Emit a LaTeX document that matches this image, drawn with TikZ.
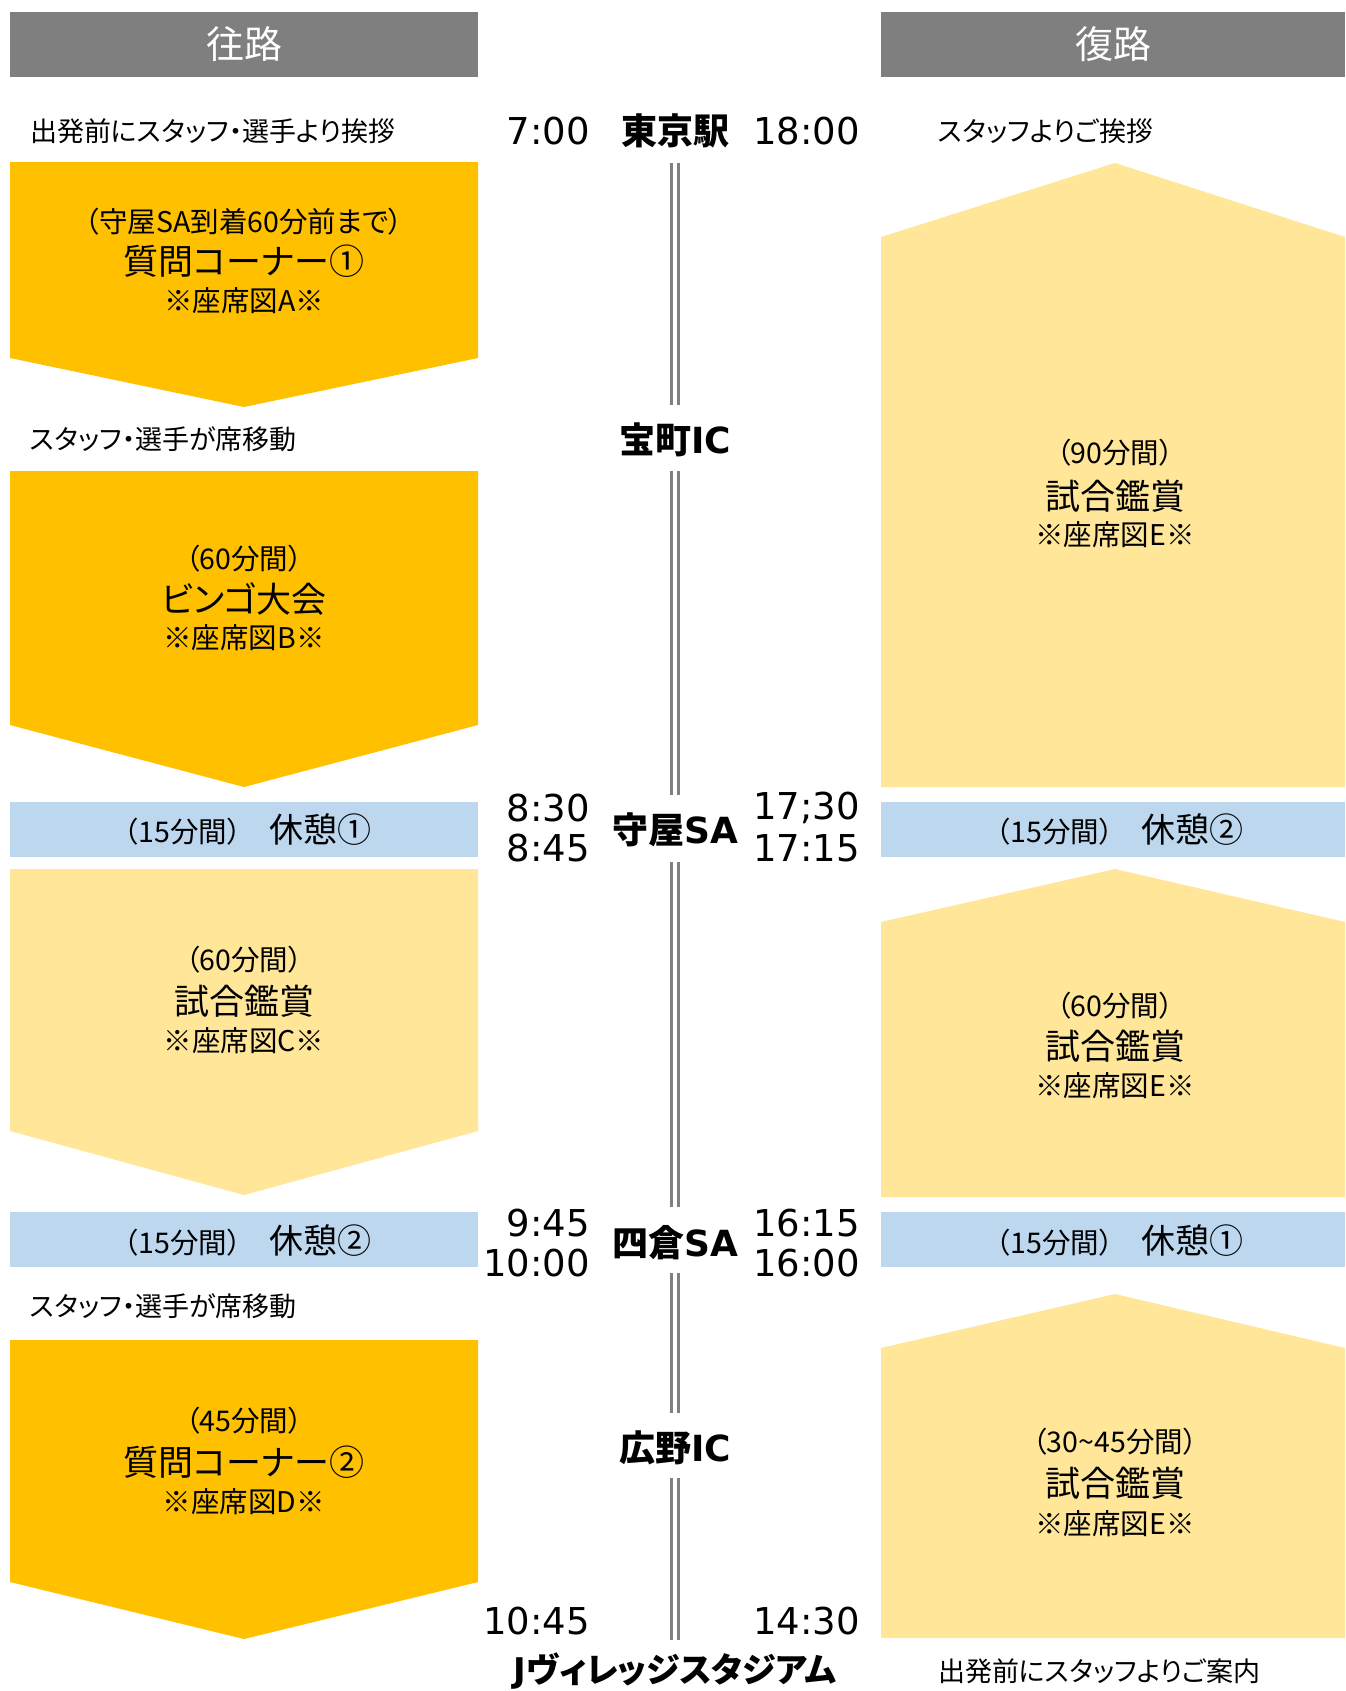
\documentclass[tikz,border=0pt]{standalone}
\usepackage{fontspec}
\setmainfont{Noto Sans CJK JP}[RawFeature=+palt]
\newfontfamily\dv{DejaVu Sans}
\definecolor{hdr}{HTML}{7F7F7F}
\definecolor{orng}{HTML}{FFC000}
\definecolor{lyel}{HTML}{FFE699}
\definecolor{lblu}{HTML}{BDD7EE}
\definecolor{railc}{HTML}{808080}
\newcommand\fsz[1]{\fontsize{#1}{#1}\selectfont}
\begin{document}
\begin{tikzpicture}[x=1pt,y=-1pt,
  hdrtxt/.style={inner sep=0pt,text=white,font=\fsz{38}},
  lbl/.style={inner sep=0pt,anchor=west,font=\fsz{27}},
  tone/.style={inner sep=0pt,font=\fsz{28.5}},
  ttwo/.style={inner sep=0pt,font=\fsz{35}},
  tm/.style={inner sep=0pt,font=\dv\fsz{37}},
  stn/.style={inner sep=0pt,font=\bfseries\fsz{36}},
  rest/.style={inner sep=0pt},
  railline/.style={draw=railc,line width=3pt,double=white,double distance=4pt}]
\useasboundingbox (0,0) rectangle (1345,1691);
\fill[white] (0,0) rectangle (1345,1691);
% headers
\fill[hdr] (10,12) rectangle (478,77);
\fill[hdr] (881,12) rectangle (1345,77);
\node[hdrtxt] (hl) at (244,44) {往路};
\node[hdrtxt] (hr) at (1113,44) {復路};
% left shapes
\fill[orng] (10,162) -- (478,162) -- (478,358) -- (244,407) -- (10,358) -- cycle;
\fill[orng] (10,471) -- (478,471) -- (478,725) -- (244,787) -- (10,725) -- cycle;
\fill[lblu] (10,802) rectangle (478,857);
\fill[lyel] (10,869) -- (478,869) -- (478,1131) -- (244,1195) -- (10,1131) -- cycle;
\fill[lblu] (10,1212) rectangle (478,1267);
\fill[orng] (10,1340) -- (478,1340) -- (478,1582) -- (244,1639) -- (10,1582) -- cycle;
% right shapes
\fill[lyel] (881,787) -- (1345,787) -- (1345,237) -- (1115,163) -- (881,237) -- cycle;
\fill[lblu] (881,802) rectangle (1345,857);
\fill[lyel] (881,1197) -- (1345,1197) -- (1345,922) -- (1115,869) -- (881,922) -- cycle;
\fill[lblu] (881,1212) rectangle (1345,1267);
\fill[lyel] (881,1638) -- (1345,1638) -- (1345,1348) -- (1115,1294) -- (881,1348) -- cycle;
% small labels
\node[lbl] (la) at (30,131) {出発前にスタッフ・選手より挨拶};
\node[lbl] (lb) at (30,439) {スタッフ・選手が席移動};
\node[lbl] (lc) at (30,1306) {スタッフ・選手が席移動};
\node[lbl] (ra) at (938,131) {スタッフよりご挨拶};
\node[lbl] (rb) at (938,1671) {出発前にスタッフよりご案内};
% block texts left
\node[tone] (a1) at (244,222) {（守屋SA到着60分前まで）};
\node[ttwo] (a2) at (244,261) {質問コーナー①};
\node[tone] (a3) at (244,301) {※座席図A※};
\node[tone] (b1) at (244,559) {（60分間）};
\node[ttwo] (b2) at (244,599) {ビンゴ大会};
\node[tone] (b3) at (244,638) {※座席図B※};
\node[tone] (c1) at (244,960) {（60分間）};
\node[ttwo] (c2) at (244,1001) {試合鑑賞};
\node[tone] (c3) at (244,1041) {※座席図C※};
\node[tone] (d1) at (244,1421) {（45分間）};
\node[ttwo] (d2) at (244,1462) {質問コーナー②};
\node[tone] (d3) at (244,1502) {※座席図D※};
% block texts right
\node[tone] (e1) at (1115,453) {（90分間）};
\node[ttwo] (e2) at (1115,496) {試合鑑賞};
\node[tone] (e3) at (1115,535) {※座席図E※};
\node[tone] (f1) at (1115,1006) {（60分間）};
\node[ttwo] (f2) at (1115,1046) {試合鑑賞};
\node[tone] (f3) at (1115,1086) {※座席図E※};
\node[tone] (g1) at (1115,1442) {（30\textasciitilde45分間）};
\node[ttwo] (g2) at (1115,1483) {試合鑑賞};
\node[tone] (g3) at (1115,1524) {※座席図E※};
% rest labels
\node[rest] (rl1) at (248,830) {{\fsz{28.5}（15分間）　}{\fsz{34}休憩①}};
\node[rest] (rl2) at (248,1241) {{\fsz{28.5}（15分間）　}{\fsz{34}休憩②}};
\node[rest] (rr1) at (1120,830) {{\fsz{28.5}（15分間）　}{\fsz{34}休憩②}};
\node[rest] (rr2) at (1120,1241) {{\fsz{28.5}（15分間）　}{\fsz{34}休憩①}};
% stations
\node[stn] (tokyo) at (675,131) {東京駅};
\node[stn] (takara) at (675,440) {宝町{\dv IC}};
\node[stn] (moriya) at (675,830) {守屋{\dv SA}};
\node[stn] (yotsu) at (675,1243) {四倉{\dv SA}};
\node[stn] (hirono) at (675,1448) {広野{\dv IC}};
\node[stn,font=\bfseries\fsz{34}] (jv) at (675,1671) {{\dv J}ヴィレッジスタジアム};
% rails
\draw[railline] ([yshift=-32pt]tokyo.center) -- ([yshift=35pt]takara.center);
\draw[railline] ([yshift=-31pt]takara.center) -- ([yshift=35pt]moriya.center);
\draw[railline] ([yshift=-32pt]moriya.center) -- ([yshift=36pt]yotsu.center);
\draw[railline] ([yshift=-30pt]yotsu.center) -- ([yshift=35pt]hirono.center);
\draw[railline] ([yshift=-30pt]hirono.center) -- ([yshift=31pt]jv.center);
% times
\node[tm,anchor=east] (t0700) at (590,131) {7:00};
\node[tm,anchor=west] (t1800) at (753,131) {18:00};
\node[tm,anchor=east] (t0830) at (590,808) {8:30};
\node[tm,anchor=east] (t0845) at (590,848) {8:45};
\node[tm,anchor=west] (t1730) at (753,808) {17;30};
\node[tm,anchor=west] (t1715) at (753,848) {17:15};
\node[tm,anchor=east] (t0945) at (590,1223) {9:45};
\node[tm,anchor=east] (t1000) at (590,1263) {10:00};
\node[tm,anchor=west] (t1615) at (753,1223) {16:15};
\node[tm,anchor=west] (t1600) at (753,1263) {16:00};
\node[tm,anchor=east] (t1045) at (590,1621) {10:45};
\node[tm,anchor=west] (t1430) at (753,1621) {14:30};
\end{tikzpicture}
\end{document}
